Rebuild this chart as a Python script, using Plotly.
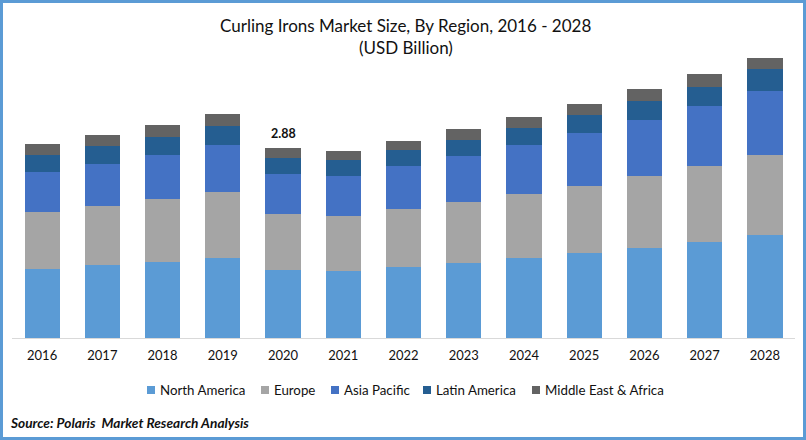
import plotly.graph_objects as go

years = ["2016","2017","2018","2019","2020","2021","2022","2023","2024","2025","2026","2027","2028"]
north_america = [1.05,1.11,1.15,1.21,1.03,1.02,1.08,1.14,1.21,1.29,1.36,1.45,1.56]
europe = [0.86,0.89,0.95,1.00,0.85,0.83,0.88,0.92,0.97,1.02,1.09,1.15,1.21]
asia_pacific = [0.61,0.64,0.68,0.71,0.61,0.61,0.65,0.70,0.74,0.80,0.85,0.91,0.97]
latin_america = [0.26,0.27,0.27,0.29,0.24,0.24,0.24,0.24,0.26,0.27,0.29,0.30,0.33]
mea = [0.16,0.17,0.17,0.18,0.15,0.14,0.14,0.17,0.17,0.17,0.18,0.19,0.18]
labelled_year = "2020"
labelled_total = 2.88

series = [("North America", north_america, "#5B9BD5", 147),
          ("Europe", europe, "#A5A5A5", 261),
          ("Asia Pacific", asia_pacific, "#4472C4", 331),
          ("Latin America", latin_america, "#255E91", 423),
          ("Middle East &amp; Africa", mea, "#636363", 532)]

W, H = 806, 440
L, R, T, B = 12, 795, 40, 338
FONT = "Lato"
INK = "#111111"

def px(x): return (x - L) / (R - L)
def py(y): return (B - y) / (B - T)

fig = go.Figure()
for name, vals, col, _ in series:
    fig.add_bar(x=years, y=vals, name=name, marker=dict(color=col, line_width=0), showlegend=False)

def note(text, x, y, size, anchor="center"):
    return dict(xref="paper", yref="paper", x=px(x), y=py(y), text=text, showarrow=False,
                xanchor=anchor, yanchor="middle", font=dict(size=size, color=INK, family=FONT))

annotations = [
    note("Curling Irons Market Size, By Region, 2016 - 2028", 406, 26, 17),
    note("(USD Billion)", 406, 48, 17),
    note("<b><i>Source: Polaris  Market Research Analysis</i></b>", 8, 423, 13.7, "left"),
    dict(x=years.index(labelled_year), y=labelled_total, yshift=14, text=f"<b>{labelled_total}</b>",
         showarrow=False, xanchor="center", yanchor="middle", font=dict(size=12.5, color=INK, family=FONT)),
]

shapes = [dict(type="rect", xref="paper", yref="paper", x0=px(1.5), x1=px(W-1.5), y0=py(1.5), y1=py(H-1.5),
               line=dict(color="#5B9BD5", width=3), fillcolor="rgba(0,0,0,0)", layer="above")]
for name, _, col, lx in series:
    shapes.append(dict(type="rect", xref="paper", yref="paper", x0=px(lx), x1=px(lx+8),
                       y0=py(394), y1=py(386), fillcolor=col, line_width=0))
    annotations.append(note(name, lx + 11, 390, 13.3, "left"))

fig.update_layout(
    width=W, height=H, barmode="stack", bargap=0.415,
    margin=dict(l=L, r=W-R, t=T, b=H-B, pad=0, autoexpand=False),
    paper_bgcolor="white", plot_bgcolor="white",
    font=dict(family=FONT, color=INK),
    annotations=annotations, shapes=shapes,
    xaxis=dict(type="category", showline=True, linecolor="#D9D9D9", linewidth=1, ticks="", showgrid=False,
               automargin=False, tickfont=dict(size=13, color=INK, family=FONT), ticklabelstandoff=5),
    yaxis=dict(visible=False, range=[0, (B-T)/66], showgrid=False, automargin=False),
    showlegend=False,
)
fig.write_html("out.html", config=dict(displayModeBar=False), post_script="document.body.style.margin='0';")
